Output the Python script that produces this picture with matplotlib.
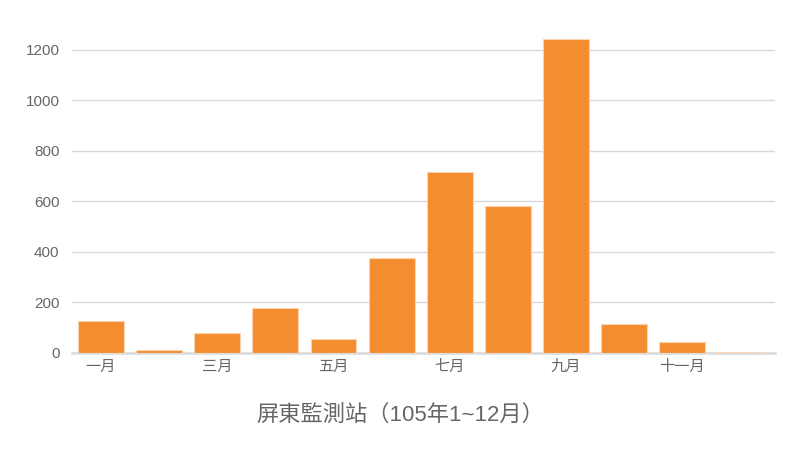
import matplotlib
matplotlib.use("Agg")
import matplotlib.pyplot as plt

months = ["一月", "二月", "三月", "四月", "五月", "六月",
          "七月", "八月", "九月", "十月", "十一月", "十二月"]
values = [127, 12, 79, 178, 55, 376, 717, 582, 1243, 115, 44, 2]
yticks = [0, 200, 400, 600, 800, 1000, 1200]
title = "屏東監測站（105年1~12月）"

plt.rcParams['font.family'] = ['Liberation Sans', 'Noto Sans CJK TC', 'DejaVu Sans']

fig = plt.figure(figsize=(8, 4.5), dpi=100)
ax = fig.add_axes([0.09, 0.2156, 0.879, 0.7294])

x = list(range(len(months)))
ax.bar(x, values, width=0.79, color='#f48d2f', edgecolor='#fbd3b0', linewidth=0.8, zorder=3)

ax.set_xlim(-0.5, 11.6)
ax.set_ylim(0, 1300)
ax.set_yticks(yticks)
ax.set_yticklabels([str(v) for v in yticks])
ax.set_xticks(x[::2])
ax.set_xticklabels(months[::2])

ax.grid(axis='y', color='#d9d9d9', linewidth=1, zorder=0)
for s in ['top', 'right', 'left']:
    ax.spines[s].set_visible(False)
ax.spines['bottom'].set_color('#dddddd')
ax.spines['bottom'].set_linewidth(2)
ax.tick_params(axis='both', length=0, labelsize=11, colors='#666666')
ax.tick_params(axis='y', pad=9)
ax.tick_params(axis='x', pad=5)

fig.text(0.5, 0.078, title, ha='center', va='center', fontsize=16, color='#666666')

fig.savefig("out.png", dpi=100)
